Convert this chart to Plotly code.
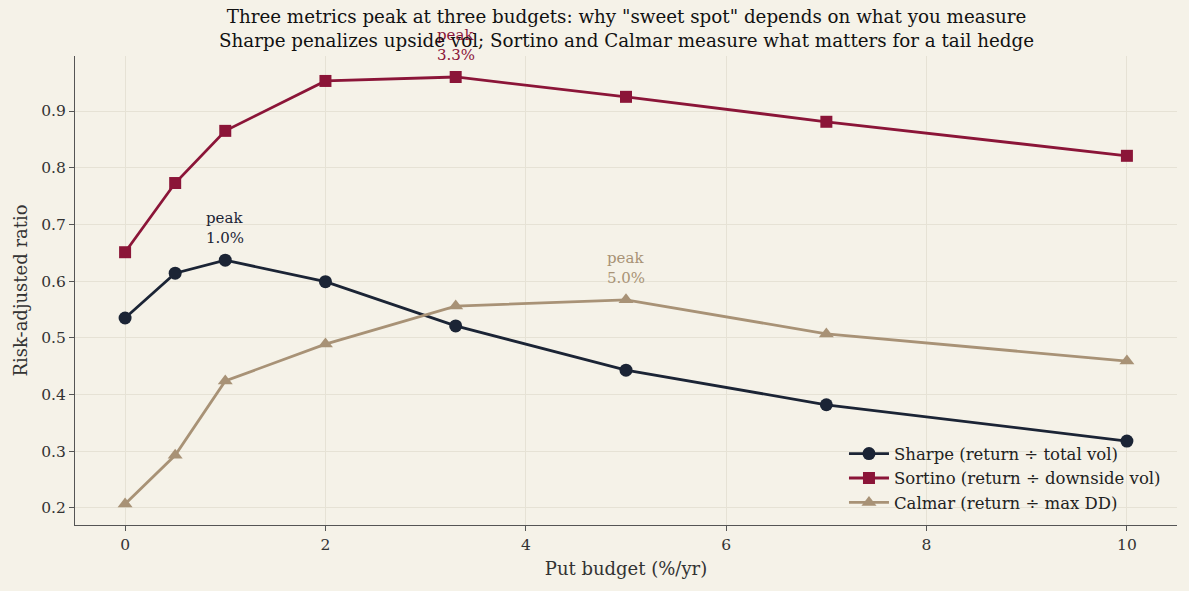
import plotly.graph_objects as go

budget = [0, 0.5, 1, 2, 3.3, 5, 7, 10]
sharpe = [0.535, 0.614, 0.637, 0.599, 0.521, 0.443, 0.382, 0.318]
sortino = [0.651, 0.773, 0.865, 0.953, 0.960, 0.925, 0.881, 0.821]
calmar = [0.207, 0.293, 0.424, 0.489, 0.556, 0.567, 0.507, 0.459]

names = ["Sharpe (return \u00f7 total vol)", "Sortino (return \u00f7 downside vol)", "Calmar (return \u00f7 max DD)"]
colors = ["#1B2435", "#8B1538", "#A89276"]
symbols = ["circle", "square", "triangle-up"]
series = [sharpe, sortino, calmar]

BG = "#F5F2E8"
FONT = "DejaVu Serif"

fig = go.Figure()
for name, vals, col, sym in zip(names, series, colors, symbols):
    fig.add_trace(go.Scatter(
        x=budget, y=vals, name=name, mode="lines+markers",
        line=dict(color=col, width=2.8),
        marker=dict(symbol=sym, size=13 if sym != "square" else 12, color=col),
        cliponaxis=False,
    ))

# peak annotations
for vals, col in zip(series, colors):
    i = max(range(len(vals)), key=lambda k: vals[k])
    fig.add_annotation(
        x=budget[i], y=vals[i], text=f"peak<br>{budget[i]:.1f}%",
        showarrow=False, yanchor="bottom", yshift=11, align="left",
        font=dict(family=FONT, size=15, color=col),
    )

# title (two lines)
fig.add_annotation(
    xref="paper", yref="paper", x=0.5, y=1, xanchor="center", yanchor="bottom", yshift=3,
    text="Three metrics peak at three budgets: why \"sweet spot\" depends on what you measure<br>Sharpe penalizes upside vol; Sortino and Calmar measure what matters for a tail hedge",
    showarrow=False, font=dict(family=FONT, size=18.3, color="#111111"),
)

fig.update_layout(
    width=1189, height=591,
    paper_bgcolor=BG, plot_bgcolor=BG,
    margin=dict(l=75, r=12, t=56, b=66),
    font=dict(family=FONT, color="#333333", size=15),
    legend=dict(
        x=0.99, y=0.01, xanchor="right", yanchor="bottom",
        bgcolor="rgba(0,0,0,0)", font=dict(family=FONT, size=16.5, color="#222222"),
        itemwidth=40, tracegroupgap=0,
    ),
    showlegend=True,
)
fig.update_xaxes(
    range=[-0.5, 10.5], tickvals=[0, 2, 4, 6, 8, 10],
    showgrid=True, gridcolor="#E6E2D5", gridwidth=1,
    showline=True, linecolor="#555555", linewidth=1.2,
    ticks="outside", ticklen=5, tickcolor="#555555",
    zeroline=False, tickfont=dict(family=FONT, size=15.5, color="#333333"),
    title=dict(text="Put budget (%/yr)", font=dict(family=FONT, size=18, color="#333333"), standoff=9),
)
fig.update_yaxes(
    range=[0.17, 0.997], tickvals=[0.2, 0.3, 0.4, 0.5, 0.6, 0.7, 0.8, 0.9],
    tickformat=".1f",
    showgrid=True, gridcolor="#E6E2D5", gridwidth=1,
    showline=True, linecolor="#555555", linewidth=1.2,
    ticks="outside", ticklen=5, tickcolor="#555555",
    zeroline=False, tickfont=dict(family=FONT, size=15.5, color="#333333"),
    title=dict(text="Risk-adjusted ratio", font=dict(family=FONT, size=18, color="#333333"), standoff=8),
)

fig.write_html("out.html")
